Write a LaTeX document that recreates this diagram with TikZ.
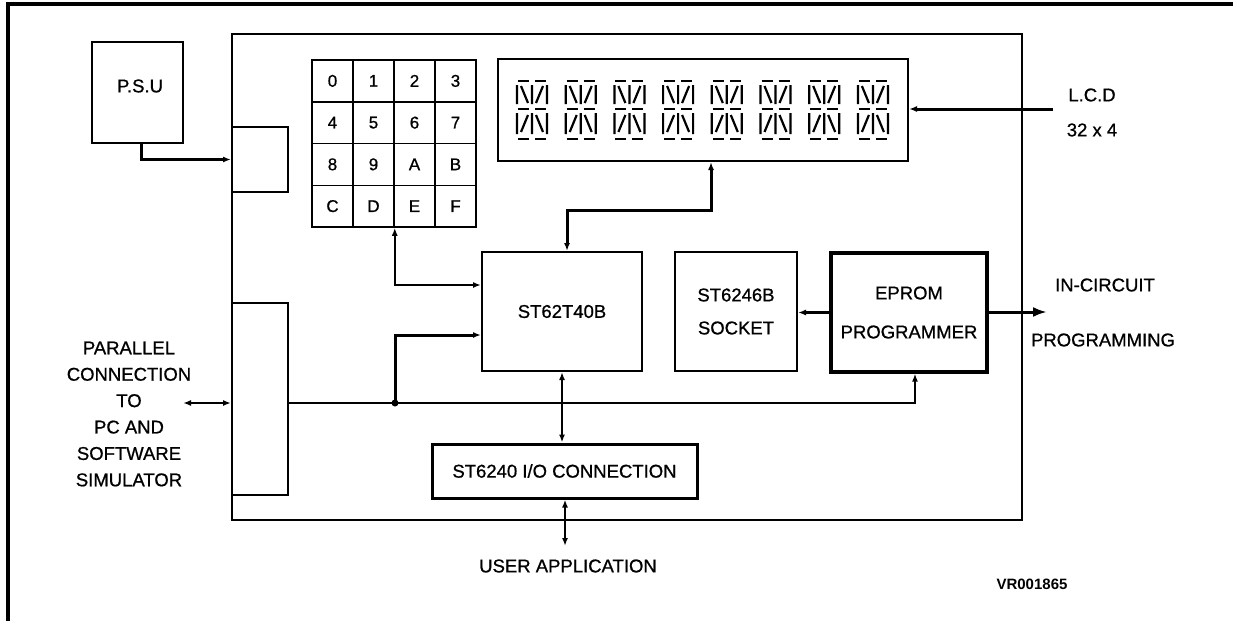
\documentclass[tikz,border=0pt]{standalone}
\usepackage{fontspec}
\setmainfont{Liberation Sans}
\newfontfamily\lblfont[FakeBold=0.8]{Liberation Sans}
\usetikzlibrary{arrows.meta,calc}
\begin{document}
\begin{tikzpicture}[x=1pt,y=-1pt,
  >={Latex[length=8pt,width=6pt]},
  lbl/.style={font=\lblfont\fontsize{18.5}{22}\selectfont, inner sep=0pt, align=center},
  blk/.style={draw, line width=2pt, rectangle, lbl},
  heavyblk/.style={blk, line width=3.2pt},
  keycell/.style={draw, line width=1.5pt, minimum width=41pt, minimum height=41.75pt, lbl, font=\lblfont\fontsize{17}{20}\selectfont},
  wire/.style={line width=1.8pt},
  bus/.style={line width=3pt},
  seg/.style={line width=2.2pt},
  frameline/.style={line width=3.5pt}
]
\useasboundingbox (0,0) rectangle (1233,621);
% outer frame
\draw[frameline] (8,621) |- (1233,4);

% main board
\node[blk, line width=2.6pt, minimum width=790pt, minimum height=486pt] (main) at (627,277) {};
\node[blk, minimum width=56pt, minimum height=65pt] (pwr) at (260,159.5) {};
\node[blk, minimum width=56pt, minimum height=192pt] (pcport) at (260,399) {};

% PSU
\node[blk, minimum width=91pt, minimum height=101pt] (psu) at (137.5,92.5) {};
\node[lbl] (psut) at (140,86) {P.S.U};

% keypad
\foreach \t [count=\i from 0] in {0,1,2,3,4,5,6,7,8,9,A,B,C,D,E,F} {
  \pgfmathsetmacro{\cx}{312+20.5+41*mod(\i,4)}
  \pgfmathsetmacro{\cy}{60+20.875+41.75*int(\i/4)}
  \node[keycell] (key\t) at (\cx,\cy) {\t};
}

% LCD
\node[blk, minimum width=410pt, minimum height=102pt] (lcd) at (703,110) {};
\foreach \i in {0,...,7} {
  \begin{scope}[shift={(517+48.7*\i,81)}]
    \draw[seg] (1,0) -- (12,0) (18,0) -- (29,0);
    \draw[seg] (0,4) -- (0,23) (4,5) -- (11,22) (15,4) -- (15,23) (19,22) -- (26,5) (30,4) -- (30,23);
    \draw[seg] (1,28) -- (12,28) (18,28) -- (29,28);
    \draw[seg] (0,32) -- (0,53) (4,51) -- (11,34) (15,32) -- (15,53) (19,34) -- (26,51) (30,32) -- (30,53);
    \draw[seg] (1,58) -- (12,58) (18,58) -- (29,58);
  \end{scope}
}

% blocks
\node[blk, minimum width=160pt, minimum height=119pt] (cpu) at (562,311.5) {ST62T40B};
\node[blk, minimum width=122pt, minimum height=119pt, font=\lblfont\fontsize{18.5}{33}\selectfont] (socket) at (736,311.5) {ST6246B\\SOCKET};
\node[heavyblk, minimum width=156pt, minimum height=119pt, font=\lblfont\fontsize{18.5}{39}\selectfont] (eprom) at (909,312.5) {EPROM\\PROGRAMMER};
\node[heavyblk, line width=3pt, minimum width=265pt, minimum height=54pt] (io) at (564.5,471) {ST6240 I/O CONNECTION};

% labels
\node[lbl] (lcdt1) at (1092,95) {L.C.D};
\node[lbl] (lcdt2) at (1092,130) {32 x 4};
\node[lbl] (icp1) at (1105,285) {IN-CIRCUIT};
\node[lbl] (icp2) at (1103,340) {PROGRAMMING};
\node[lbl, font=\lblfont\fontsize{18.5}{26.4}\selectfont] (pctext) at (129,414) {PARALLEL\\CONNECTION\\TO\\PC AND\\SOFTWARE\\SIMULATOR};
\node[lbl] (user) at (568,566) {USER APPLICATION};
\node[lbl, font=\fontsize{15}{18}\selectfont\bfseries] (vr) at (1032,584) {VR001865};

% coordinates
\coordinate (cpuin1) at ($(cpu.north west)+(0,34)$);
\coordinate (cpuin2) at ($(cpu.north west)+(0,84)$);
\coordinate (dot) at (395,403);
\coordinate (pcext) at (183,403);
\coordinate (userend) at (565,546);
\coordinate (icpend) at (1047,312);
\coordinate (lcdext) at (1053,109);

% connectors
\draw[bus,->] ($(psu.south)+(3.5,0)$) |- (pwr.west);
\draw[wire,<->] (keyD.south east) |- (cpuin1);
\draw[wire,->] (pcport.east |- dot) -- (dot) -| ($(eprom.south)+(6,0)$);
\fill (dot) circle (3.5pt);
\draw[bus,->] (dot) |- (cpuin2);
\draw[wire,<->] (pcext) -- (pcport.west |- pcext);
\draw[bus,<->] ($(lcd.south)+(8,0)$) -- ++(0,48) -| ($(cpu.north)+(5,0)$);
\draw[wire,<->] (cpu.south) -- (io.north -| cpu.south);
\draw[wire,<->] (io.south -| userend) -- (userend);
\draw[bus,->] (eprom.west) -- (socket.east |- eprom.west);
\draw[bus,-{Latex[length=14pt,width=10pt]}] (eprom.east |- icpend) -- (icpend);
\draw[bus,->] (lcdext) -- (lcd.east |- lcdext);
\end{tikzpicture}
\end{document}
